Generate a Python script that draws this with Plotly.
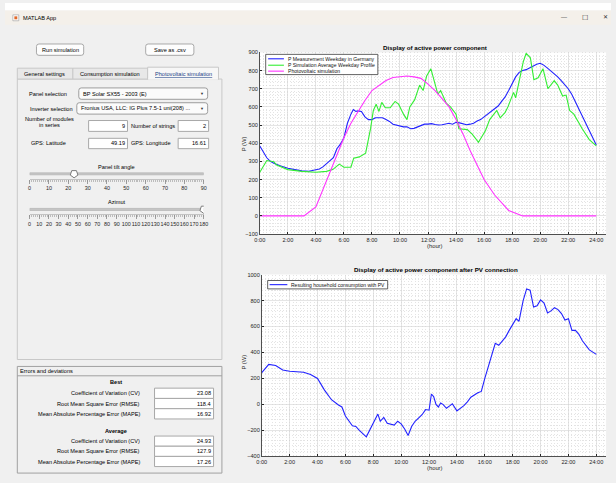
import plotly.graph_objects as go

# ---------------- data ----------------
hour_ticks = [0, 2, 4, 6, 8, 10, 12, 14, 16, 18, 20, 22, 24]
hour_labels = ["0:00", "2:00", "4:00", "6:00", "8:00", "10:00", "12:00",
               "14:00", "16:00", "18:00", "20:00", "22:00", "24:00"]

meas_h = [0, 0.25, 0.5, 0.75, 1, 1.5, 2, 2.5, 3, 3.5, 4, 4.25, 4.5, 4.75, 5, 5.25,
          5.5, 5.75, 6, 6.25, 6.5, 6.67, 6.85, 7, 7.25, 7.5, 7.75, 8, 8.25, 8.5,
          8.75, 9, 9.25, 9.5, 9.75, 10, 10.25, 10.5, 10.75, 11, 11.25, 11.5, 11.75,
          12, 12.25, 12.5, 12.75, 13, 13.25, 13.5, 13.75, 14, 14.25, 14.5, 14.75,
          15, 15.25, 15.5, 15.75, 16, 16.25, 16.5, 16.75, 17, 17.25, 17.5, 17.75,
          18, 18.25, 18.5, 18.75, 19, 19.25, 19.5, 19.75, 20, 20.25, 20.5, 20.75,
          21, 21.25, 21.5, 21.75, 22, 22.25, 22.5, 22.75, 23, 23.25, 23.5, 23.75, 24]
meas_p = [385, 350, 320, 300, 290, 275, 262, 255, 248, 246, 252, 258, 270, 285, 305, 320,
          370, 395, 430, 510, 560, 585, 575, 578, 575, 545, 530, 530, 540, 538,
          540, 530, 520, 505, 500, 492, 490, 490, 480, 482, 490, 498, 505,
          505, 508, 503, 500, 502, 505, 510, 505, 515, 512, 505, 502,
          505, 510, 522, 530, 545, 560, 575, 590, 605, 630, 655, 690,
          730, 765, 790, 800, 805, 815, 825, 835, 840, 830, 815, 800,
          785, 765, 745, 725, 700, 670, 630, 590, 550, 510, 470, 430, 390]

sim_h = [0, 0.5, 1.0, 1.2, 2, 3, 4, 4.75, 5.2, 5.67, 6.0, 6.5, 6.7, 7.1, 7.55, 7.9,
         8.1, 8.3, 8.5, 8.7, 8.95, 9.3, 9.65, 9.9, 10.25, 10.5, 10.7, 11.05, 11.4,
         11.65, 11.9, 12.2, 12.45, 12.7, 12.9, 13.3, 13.6, 14.0, 14.2, 14.8, 15.15,
         15.6, 16.1, 16.4, 16.9, 17.15, 17.5, 17.7, 18.1, 18.25, 18.55, 18.8, 19.0,
         19.3, 19.55, 19.85, 20.2, 20.55, 21.0, 21.25, 21.6, 21.85, 22.1, 22.4,
         23.0, 23.5, 24]
sim_p = [240, 305, 298, 280, 255, 245, 240, 245, 255, 285, 268, 268, 318, 325, 345, 480,
         580, 615, 575, 625, 595, 595, 630, 615, 560, 530, 600, 640, 720,
         690, 770, 810, 740, 670, 690, 620, 600, 560, 480, 475, 450,
         405, 470, 530, 580, 540, 570, 600, 680, 650, 760, 850, 895,
         870, 750, 760, 810, 700, 745, 720, 660, 665, 580, 560,
         480, 420, 385]

pv_h = [0, 3.15, 4.0, 4.5, 5.0, 5.5, 6.0, 6.5, 7.0, 7.5, 8.0, 8.5, 9.0, 9.5, 10.0,
        10.5, 11.0, 11.5, 12.0, 12.5, 13.0, 13.5, 14.0, 14.5, 15.0, 15.5, 16.0,
        16.75, 17.25, 17.75, 18.75, 24]
pv_p = [0, 0, 50, 145, 240, 335, 430, 510, 575, 635, 690, 720, 745, 762, 768,
        770, 765, 757, 725, 690, 645, 600, 530, 450, 360, 280, 200,
        115, 70, 30, 0, 0]

res_h = [0, 0.5, 1.0, 1.5, 2, 2.5, 3, 3.5, 4, 4.5, 5, 5.5, 5.75, 6, 6.5, 6.75, 7, 7.5,
         7.75, 8, 8.25, 8.33, 8.5, 8.75, 9, 9.5, 9.75, 10, 10.25, 10.5, 10.75, 11,
         11.5, 11.75, 12, 12.17, 12.33, 12.5, 12.67, 12.83, 13, 13.25, 13.5, 13.67,
         14, 14.5, 14.75, 15, 15.5, 15.75, 16, 16.5, 16.75, 17, 17.5, 17.75, 18,
         18.25, 18.45, 18.75, 19, 19.25, 19.5, 19.75, 20, 20.25, 20.5, 20.75, 21,
         21.25, 21.5, 21.75, 22, 22.25, 22.5, 22.75, 23, 23.5, 24]
res_p = [244, 308, 300, 265, 255, 250, 248, 230, 200, 110, 36, -5, -20, -90, -165, -170,
         -200, -250, -200, -150, -90, -75, -130, -100, -145, -160, -130, -150, -190,
         -240, -170, -130, -80, -40, -45, 80, 60, 0, -20, 10, 0, -30, -10, 5,
         -50, -10, 20, 55, 90, 100, 200, 380, 470, 455, 520, 570, 620,
         660, 640, 800, 890, 880, 750, 760, 805, 780, 705, 720, 745,
         730, 700, 650, 660, 570, 570, 540, 490, 420, 385]

tilt_ticks = [0, 10, 20, 30, 40, 50, 60, 70, 80, 90]
azim_ticks = [0, 10, 20, 30, 40, 50, 60, 70, 80, 90, 100, 110, 120, 130, 140,
              150, 160, 170, 180]
tilt_value = 23
azim_value = 180

err_labels = ["Coefficient of Variation (CV)", "Root Mean Square Error (RMSE)",
              "Mean Absolute Percentage Error (MAPE)"]
best_vals = ["23.08", "118.4", "16.92"]
avg_vals = ["24.93", "127.9", "17.26"]

# ---------------- helpers ----------------
W, H = 616, 483
FONT = "Liberation Sans, Arial, sans-serif"


def X(p):
    return p / W


def Y(p):
    return 1 - p / H


shapes = []
ann = []


def rect(x0, y0, x1, y1, fill, line="#a0a0a0", lw=1, layer="below"):
    shapes.append(dict(type="rect", xref="paper", yref="paper", x0=X(x0), x1=X(x1),
                       y0=Y(y1), y1=Y(y0), fillcolor=fill,
                       line=dict(color=line, width=lw), layer=layer))


def rrect(x0, y0, x1, y1, fill, line="#a0a0a0", r=2.5):
    rx, ry = r / W, r / H
    a0, a1, b0, b1 = X(x0), X(x1), Y(y1), Y(y0)
    path = (f"M {a0+rx} {b0} L {a1-rx} {b0} Q {a1} {b0} {a1} {b0+ry} "
            f"L {a1} {b1-ry} Q {a1} {b1} {a1-rx} {b1} L {a0+rx} {b1} "
            f"Q {a0} {b1} {a0} {b1-ry} L {a0} {b0+ry} Q {a0} {b0} {a0+rx} {b0} Z")
    shapes.append(dict(type="path", xref="paper", yref="paper", path=path,
                       fillcolor=fill, line=dict(color=line, width=1), layer="below"))


def hline(x0, x1, y, color, w=1, layer="below"):
    shapes.append(dict(type="line", xref="paper", yref="paper", x0=X(x0), x1=X(x1),
                       y0=Y(y), y1=Y(y), line=dict(color=color, width=w), layer=layer))


def txt(x, y, s, size=5.6, anchor="left", color="#000000", angle=0):
    ann.append(dict(x=X(x), y=Y(y), xref="paper", yref="paper", text=s, showarrow=False,
                    xanchor=anchor, yanchor="middle", textangle=angle, borderpad=0,
                    font=dict(size=size, color=color, family=FONT)))


# ---------------- window chrome ----------------
rect(0, 0, 616, 7.5, "#ffffff", line="rgba(0,0,0,0)", lw=0)
rect(0, 7.5, 616, 22, "#f4f0ea", line="rgba(0,0,0,0)", lw=0)
rect(8, 12, 14, 18, "#ffffff", line="#9a9a9a", lw=0.6)
rect(9.5, 13.5, 12.5, 16.5, "#e0692a", line="rgba(0,0,0,0)", lw=0)
txt(17, 15, "MATLAB App", size=5.6)
txt(568, 14.5, "—", size=6, anchor="center", color="#333333")
txt(590, 14.5, "☐", size=7, anchor="center", color="#333333")
txt(610, 14.5, "✕", size=6, anchor="center", color="#333333")

# buttons
rrect(32, 41.5, 80, 53, "#fdfdfd", line="#a8a8a8")
txt(56, 47.2, "Run simulation", anchor="center")
rrect(143, 41.5, 192, 53, "#fdfdfd", line="#a8a8a8")
txt(167.5, 47.2, "Save as .csv", anchor="center")

# tabs
rect(12.5, 77, 220.5, 361, "#f0f0f0", line="#c8c8c8")
rect(12.5, 66, 69, 77, "#e8e8e8", line="#c8c8c8")
rect(69, 66, 145, 77, "#e8e8e8", line="#c8c8c8")
rect(145, 65, 217, 77.5, "#f7f7f7", line="#c8c8c8")
hline(145.5, 216.5, 77, "#f7f7f7", w=1.2)
txt(40.5, 71.5, "General settings", anchor="center")
txt(107, 71.5, "Consumption simulation", anchor="center")
txt(181, 71.5, "<u>Photovoltaic simulation</u>", anchor="center", color="#1c3f86")

# dropdowns
txt(64.5, 92, "Panel selection", anchor="right")
rrect(75, 86, 206, 97.5, "#fbfbfb", line="#9c9c9c")
txt(78, 91.8, "BP Solar SX55 - 2003 (E)")
txt(200, 91.8, "▼", size=4, anchor="center", color="#333333")
txt(70.5, 107, "Inverter selection", anchor="right")
rrect(73, 101, 206, 112.5, "#fbfbfb", line="#9c9c9c")
txt(76, 106.8, "Fronius USA, LLC: IG Plus 7.5-1 uni(208) ...")
txt(200, 106.8, "▼", size=4, anchor="center", color="#333333")

# numeric fields
txt(45, 117.5, "Number of modules", anchor="center")
txt(45, 124, "in series", anchor="center")
rect(85, 119, 124.5, 130, "#ffffff", line="#a8a8a8")
txt(122.5, 124.5, "9", anchor="right")
txt(150, 124.5, "Number of strings", anchor="center")
rect(176, 119, 207, 130, "#ffffff", line="#a8a8a8")
txt(205, 124.5, "2", anchor="right")

txt(25, 142, "GPS: Latitude")
rect(85, 137, 124.5, 147.5, "#ffffff", line="#a8a8a8")
txt(122.5, 142.2, "49.19", anchor="right")
txt(127, 142, "GPS: Longitude")
rect(176, 137, 207, 147.5, "#ffffff", line="#a8a8a8")
txt(205, 142.2, "16.61", anchor="right")

# slider captions
txt(113.5, 166, "Panel tilt angle", anchor="center")
txt(113.5, 201, "Azimut", anchor="center")

# errors panel
rect(12.5, 368, 220.5, 476, "#f0f0f0", line="#a0a0a0")
hline(12.5, 220.5, 377.5, "#a0a0a0")
txt(14.5, 373, "Errors and deviations")
txt(113, 384, "<b>Best</b>", anchor="center")
txt(113, 433, "<b>Average</b>", anchor="center")
for i, (lab, bv, av) in enumerate(zip(err_labels, best_vals, avg_vals)):
    yb = 390 + i * 10.4
    ya = 438.5 + i * 10.3
    rect(152, yb, 212, yb + 10.4, "#ffffff", line="#a8a8a8")
    rect(152, ya, 212, ya + 10.3, "#ffffff", line="#a8a8a8")
    txt(138, yb + 5.2, lab, anchor="right")
    txt(138, ya + 5.2, lab, anchor="right")
    txt(210.5, yb + 5.2, bv, anchor="right")
    txt(210.5, ya + 5.2, av, anchor="right")

# chart white backgrounds
rect(259, 50, 611, 234, "#ffffff", line="rgba(0,0,0,0)", lw=0)
rect(261, 275, 611, 459, "#ffffff", line="rgba(0,0,0,0)", lw=0)

# chart titles & labels
txt(437, 45, "<b>Display of active power component</b>", size=6.2, anchor="center")
txt(438, 270, "<b>Display of active power component after PV connection</b>", size=6.2,
    anchor="center")
txt(437, 246, "(hour)", size=5.8, anchor="center", color="#262626")
txt(437.5, 471, "(hour)", size=5.8, anchor="center", color="#262626")
txt(243, 143, "P (W)", size=5.8, anchor="center", color="#262626", angle=-90)
txt(243, 364, "P (W)", size=5.8, anchor="center", color="#262626", angle=-90)

# legends (boxes + samples), drawn above the data lines
BLUE, GREEN, MAG = "#2222ff", "#33ee33", "#ff33ff"
rect(265, 52, 379, 72.5, "#ffffff", line="#3a3a3a", lw=0.8, layer="above")
for yy, col, lab in [(56.5, BLUE, "P Measurement Weekday in Germany"),
                     (63, GREEN, "P Simulation Average Weekday Profile"),
                     (69, MAG, "Photovoltaic simulation")]:
    hline(267.5, 283.5, yy, col, w=1.1, layer="above")
    txt(286.5, yy, lab, size=5.1, color="#111111")
rect(267, 281, 389, 289.5, "#ffffff", line="#3a3a3a", lw=0.8, layer="above")
hline(269, 287, 285.2, BLUE, w=1.1, layer="above")
txt(289.5, 285.2, "Resulting household consumption with PV", size=5.0, color="#111111")

# ---------------- figure ----------------
fig = go.Figure()
fig.add_trace(go.Scatter(x=meas_h, y=meas_p, mode="lines", line=dict(color=BLUE, width=1.1),
                         xaxis="x", yaxis="y", name="P Measurement Weekday in Germany"))
fig.add_trace(go.Scatter(x=sim_h, y=sim_p, mode="lines", line=dict(color=GREEN, width=1.1),
                         xaxis="x", yaxis="y", name="P Simulation Average Weekday Profile"))
fig.add_trace(go.Scatter(x=pv_h, y=pv_p, mode="lines", line=dict(color=MAG, width=1.1),
                         xaxis="x", yaxis="y", name="Photovoltaic simulation"))
fig.add_trace(go.Scatter(x=res_h, y=res_p, mode="lines", line=dict(color=BLUE, width=1.1),
                         xaxis="x2", yaxis="y2", name="Resulting household consumption with PV"))
# slider thumbs
fig.add_trace(go.Scatter(x=[tilt_value], y=[5], mode="markers", xaxis="x3", yaxis="y3",
                         marker=dict(symbol="pentagon", angle=180, size=8, color="#ffffff",
                                     line=dict(color="#7a7a7a", width=1))))
fig.add_trace(go.Scatter(x=[azim_value], y=[5], mode="markers", xaxis="x4", yaxis="y4",
                         marker=dict(symbol="pentagon", angle=180, size=8, color="#ffffff",
                                     line=dict(color="#7a7a7a", width=1))))

# slider tracks (in slider axis coords)
for xr, yr, hi in [("x3", "y3", 90), ("x4", "y4", 180)]:
    shapes.append(dict(type="rect", xref=xr, yref=yr, x0=0, x1=hi, y0=4, y1=6,
                       fillcolor="#c8c8c8", line=dict(color="#a8a8a8", width=0.6),
                       layer="below"))

axis_font = dict(size=5.6, color="#262626", family=FONT)
major_grid = dict(showgrid=True, gridcolor="#d3d3d3", gridwidth=0.6)
MINOR_DASH = "1px,2px"
MINOR_COLOR = "#c9c9c9"


def chart_x(domain, anchor):
    return dict(domain=domain, anchor=anchor, range=[0, 24.7], tickvals=hour_ticks,
                ticktext=hour_labels, ticks="inside", ticklen=2.5, tickcolor="#262626",
                showline=True, linecolor="#262626", linewidth=0.8, zeroline=False,
                tickfont=axis_font, fixedrange=True, tickangle=0,
                minor=dict(dtick=0.25, tick0=0, showgrid=True, griddash=MINOR_DASH,
                           gridcolor=MINOR_COLOR, gridwidth=0.5), **major_grid)


def chart_y(domain, anchor, rng, dtick, minor):
    return dict(domain=domain, anchor=anchor, range=rng, dtick=dtick, ticks="inside",
                ticklen=2.5, tickcolor="#262626", showline=True, linecolor="#262626",
                linewidth=0.8, zeroline=False, tickfont=axis_font, fixedrange=True,
                minor=dict(dtick=minor, showgrid=True, griddash=MINOR_DASH,
                           gridcolor=MINOR_COLOR, gridwidth=0.5), **major_grid)


def slider_x(domain, anchor, hi, vals, mdt):
    return dict(domain=domain, anchor=anchor, range=[0, hi], tickvals=vals,
                ticktext=[str(v) for v in vals], ticks="outside", ticklen=4,
                tickcolor="#8a8a8a", tickwidth=0.8, showline=True, linecolor="#b8b8b8",
                linewidth=0.8, showgrid=False, zeroline=False, fixedrange=True,
                tickangle=0, tickfont=dict(size=5.4, color="#262626", family=FONT),
                minor=dict(dtick=mdt, tick0=0, ticks="outside", ticklen=2,
                           tickcolor="#9a9a9a", tickwidth=0.6, showgrid=False))


def slider_y(domain, anchor):
    return dict(domain=domain, anchor=anchor, range=[0, 10], visible=False,
                fixedrange=True, showgrid=False, zeroline=False)


fig.update_layout(
    width=W, height=H, margin=dict(l=0, r=0, t=0, b=0),
    paper_bgcolor="#f0f0f0", plot_bgcolor="rgba(0,0,0,0)",
    showlegend=False, font=dict(family=FONT, size=6), hovermode=False,
    xaxis=chart_x([X(259), X(611)], "y"),
    yaxis=chart_y([Y(234), Y(50)], "x", [-100, 900], 100, 20),
    xaxis2=chart_x([X(261), X(611)], "y2"),
    yaxis2=chart_y([Y(459), Y(275)], "x2", [-400, 1000], 200, 40),
    xaxis3=slider_x([X(25), X(202)], "y3", 90, tilt_ticks, 1),
    yaxis3=slider_y([Y(178), Y(168)], "x3"),
    xaxis4=slider_x([X(25), X(202)], "y4", 180, azim_ticks, 2),
    yaxis4=slider_y([Y(214), Y(204)], "x4"),
    shapes=shapes, annotations=ann,
)

fig.write_html("out.html", config={"displayModeBar": False, "staticPlot": True},
               post_script="document.body.style.margin='0';"
               "document.body.style.overflow='hidden';")
